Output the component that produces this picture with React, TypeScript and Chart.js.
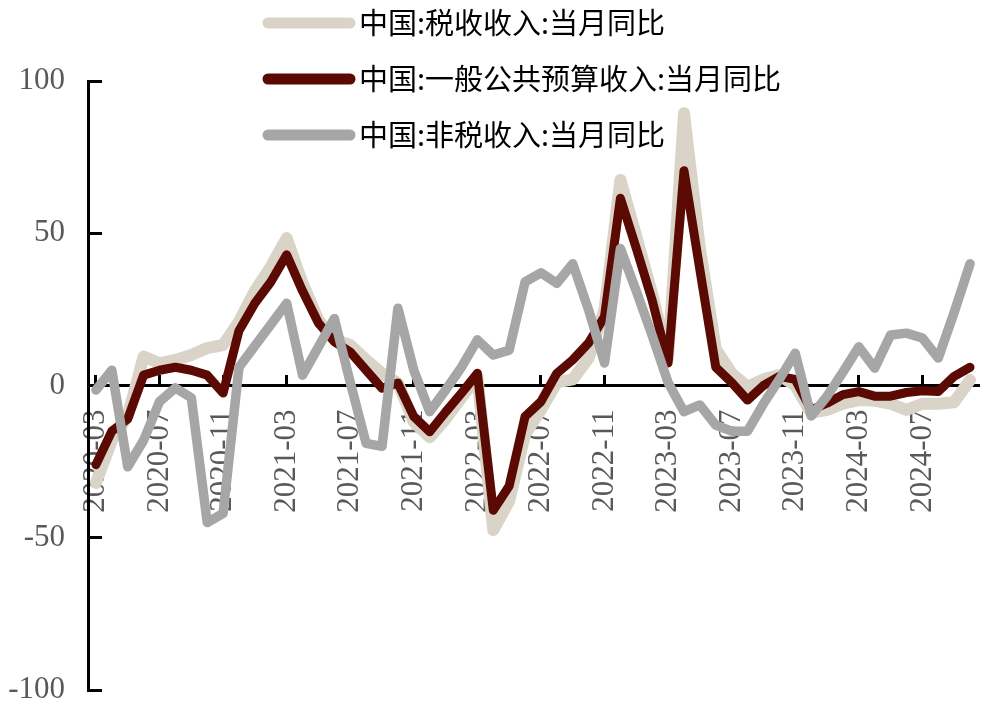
import React, { useEffect, useRef } from 'react';
import { Chart, registerables, Plugin } from 'chart.js';

Chart.register(...registerables);

const months = [
  '2020-03', '2020-04', '2020-05', '2020-06', '2020-07', '2020-08', '2020-09', '2020-10', '2020-11', '2020-12',
  '2021-01', '2021-02', '2021-03', '2021-04', '2021-05', '2021-06', '2021-07', '2021-08', '2021-09', '2021-10', '2021-11', '2021-12',
  '2022-01', '2022-02', '2022-03', '2022-04', '2022-05', '2022-06', '2022-07', '2022-08', '2022-09', '2022-10', '2022-11', '2022-12',
  '2023-01', '2023-02', '2023-03', '2023-04', '2023-05', '2023-06', '2023-07', '2023-08', '2023-09', '2023-10', '2023-11', '2023-12',
  '2024-01', '2024-02', '2024-03', '2024-04', '2024-05', '2024-06', '2024-07', '2024-08', '2024-09', '2024-10',
];

// 中国:税收收入:当月同比
const taxYoY = [
  -32, -18, -10, 9.5, 7.3, 8.4, 10, 12.3, 13.3, 21,
  31, 39, 48.4, 33.6, 21.5, 15, 13.3, 8.4, 4, 0.8, -12, -17,
  -11, -4, 3, -47.5, -38, -16, -8, 1, 2, 9, 25, 67.5,
  49, 30, 9, 89.4, 45, 12, 4, -0.4, 2, 3.4, 0, -9,
  -8, -6, -4.8, -5, -6, -8, -6, -6, -5.5, 1.8,
];

// 中国:一般公共预算收入:当月同比
const generalYoY = [
  -26, -15, -11, 3.4, 5, 6, 5, 3.4, -2.5, 18,
  27, 34, 42.9, 31, 20.5, 14.4, 11, 5, -0.9, 0.8, -10.2, -15.2,
  -8.7, -2.5, 4, -41, -33, -10.2, -5.3, 4, 8.4, 14, 22.6, 61.5,
  45, 28, 7.4, 70.5, 38, 6, 1, -4.8, 0, 3, 2, -8,
  -5.8, -3, -2, -3.5, -3.5, -2.3, -1.7, -2, 3, 6,
];

// 中国:非税收入:当月同比
const nonTaxYoY = [
  -1.5, 5, -26.7, -18, -5.3, -0.8, -4, -45, -42, 6,
  13, 20, 27, 3.4, 12.7, 22, 1, -19, -20, 25.4, 5, -8.6,
  -1.5, 6, 15, 10, 11.6, 34, 37, 33.6, 40, 24.8, 7.4, 45,
  31, 16.4, 1, -8.6, -6.4, -13, -15, -15, -6, 2, 10.6, -10,
  -3.5, 4.4, 12.7, 5.7, 16.6, 17.2, 15.6, 9, 24, 40,
];

const seriesNames = ['中国:税收收入:当月同比', '中国:一般公共预算收入:当月同比', '中国:非税收入:当月同比'];
const seriesColors = ['#DAD4C8', '#5A0A02', '#A6A6A6'];

const tickFont = { family: '"Liberation Serif", "Times New Roman", serif', size: 31 };

const legendPlugin: Plugin = {
  id: 'topLegend',
  afterDraw(chart) {
    const { ctx } = chart;
    ctx.save();
    chart.data.datasets.forEach((ds, i) => {
      const y = 23 + i * 56;
      ctx.strokeStyle = ds.borderColor as string;
      ctx.lineWidth = 11;
      ctx.lineCap = 'round';
      ctx.beginPath();
      ctx.moveTo(268, y);
      ctx.lineTo(350, y);
      ctx.stroke();
      ctx.fillStyle = '#000';
      ctx.font = '29px "Noto Sans CJK SC"';
      ctx.textBaseline = 'middle';
      ctx.textAlign = 'left';
      ctx.fillText(ds.label as string, 359, y);
    });
    ctx.restore();
  },
};

const App: React.FC = () => {
  const canvasRef = useRef<HTMLCanvasElement>(null);

  useEffect(() => {
    if (!canvasRef.current) return;
    const ctx = canvasRef.current.getContext('2d');
    if (!ctx) return;

    const chart = new Chart(ctx, {
      type: 'line',
      data: {
        labels: months,
        datasets: [
          { label: seriesNames[0], data: taxYoY, borderColor: seriesColors[0], borderWidth: 12, order: 2 },
          { label: seriesNames[1], data: generalYoY, borderColor: seriesColors[1], borderWidth: 9, order: 1 },
          { label: seriesNames[2], data: nonTaxYoY, borderColor: seriesColors[2], borderWidth: 9.5, order: 0 },
        ],
      },
      options: {
        animation: false,
        responsive: true,
        maintainAspectRatio: false,
        layout: { padding: { left: 0, right: 12, top: 81, bottom: 16 } },
        elements: {
          point: { radius: 0 },
          line: { tension: 0, borderJoinStyle: 'round', borderCapStyle: 'round' },
        },
        plugins: {
          legend: { display: false },
          tooltip: { enabled: false },
        },
        scales: {
          x: {
            type: 'category',
            offset: true,
            position: { y: 0 },
            border: { display: true, color: '#000', width: 3 },
            grid: {
              display: true,
              drawOnChartArea: false,
              drawTicks: true,
              tickLength: -12,
              lineWidth: 3,
              color: (c: any) => (c.index === undefined || c.index % 4 === 0 ? '#000' : 'rgba(0,0,0,0)'),
            },
            ticks: {
              autoSkip: false,
              minRotation: 90,
              maxRotation: 90,
              padding: 36,
              color: '#595959',
              font: tickFont,
              callback: (_v: any, i: number) => (i % 4 === 0 ? months[i] : ''),
            },
            afterFit: (s: any) => {
              s.paddingLeft = 0;
              s.paddingRight = 0;
              s.paddingTop = 0;
              s.paddingBottom = 0;
            },
          },
          y: {
            min: -100,
            max: 100,
            border: { display: true, color: '#000', width: 3 },
            grid: { drawOnChartArea: false, drawTicks: true, tickLength: -14, lineWidth: 3, color: '#000' },
            ticks: { stepSize: 50, padding: 37, color: '#595959', font: tickFont },
            afterFit: (s: any) => {
              s.width = 88;
              s.paddingTop = 0;
              s.paddingBottom = 0;
            },
          },
        },
      },
      plugins: [legendPlugin],
    });

    return () => {
      chart.destroy();
    };
  }, []);

  return (
    <div style={{ position: 'absolute', left: 0, top: 0, width: 990, height: 706, background: '#fff' }}>
      <canvas ref={canvasRef} />
    </div>
  );
};

export default App;
